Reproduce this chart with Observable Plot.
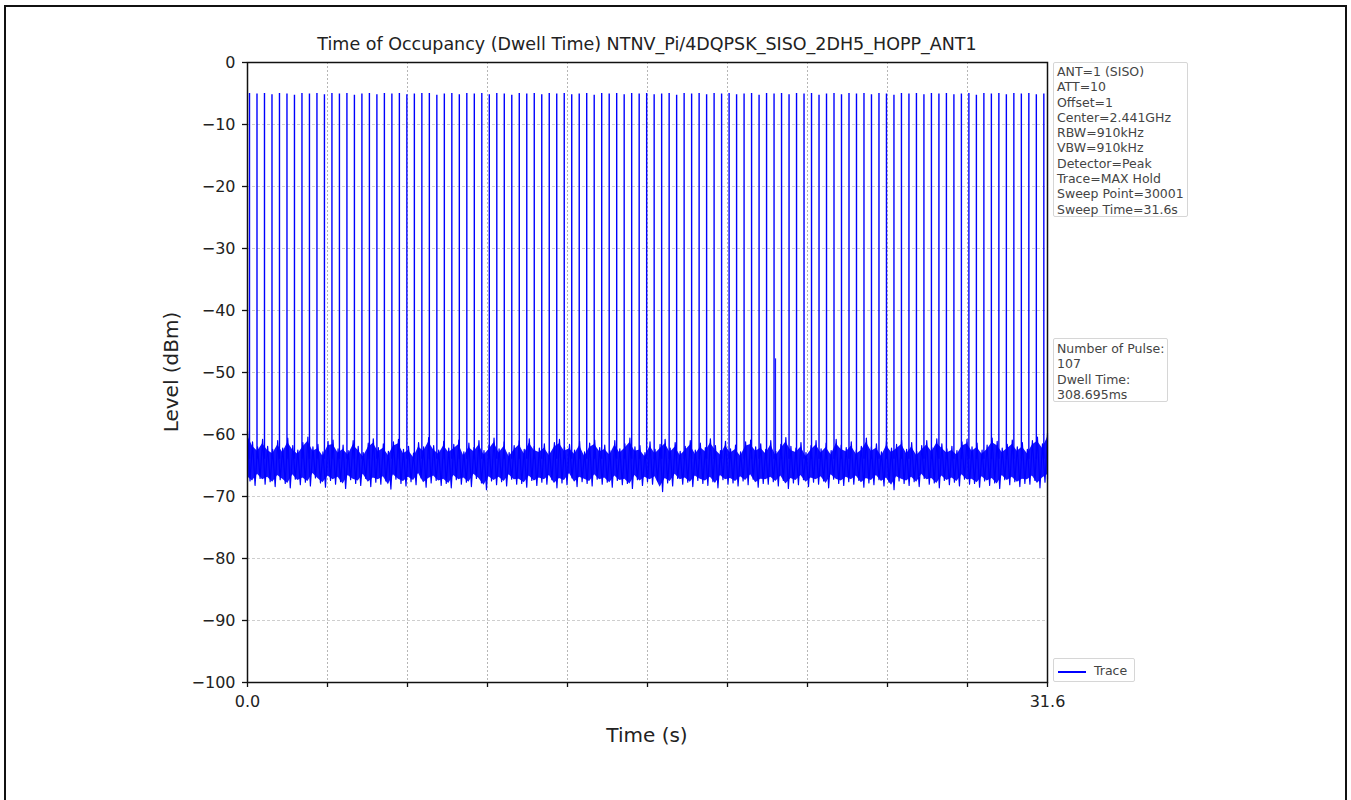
<!DOCTYPE html>
<html><head><meta charset="utf-8">
<script src="https://cdn.jsdelivr.net/npm/d3@7"></script>
<script src="https://cdn.jsdelivr.net/npm/@observablehq/plot@0.6"></script>
<style>
body{margin:0;background:#fff;font-family:"DejaVu Sans",sans-serif;}
#wrap{position:relative;width:1351px;height:800px;overflow:hidden;background:#fff;}
#chart{position:absolute;left:0;top:0;}
#border{position:absolute;left:4px;top:5px;width:1343px;height:800px;border:2px solid #111;box-sizing:border-box;pointer-events:none;}
.box{position:absolute;background:rgba(255,255,255,0.9);border:1px solid #d6d6d6;border-radius:2px;font-size:12.5px;color:#444;line-height:15.3px;box-sizing:border-box;padding:1px 0 0 3px;white-space:nowrap;}
</style>
</head><body>
<div id="wrap">
<div id="chart"></div>
<div class="box" id="info" style="left:1053px;top:62px;width:135px;height:155px;"></div>
<div class="box" id="pulse" style="left:1053px;top:338px;width:115px;height:64px;padding-top:2px;"></div>
<div class="box" id="legend" style="left:1053px;top:658px;width:82px;height:24px;line-height:22px;padding-left:4px;">
<span style="display:inline-block;width:28px;height:0;border-top:2px solid #0000ff;vertical-align:middle;margin-right:8px;"></span>Trace</div>
<div id="border"></div>
</div>
<script>
const titleText = "Time of Occupancy (Dwell Time) NTNV_Pi/4DQPSK_SISO_2DH5_HOPP_ANT1";
const xLabel = "Time (s)";
const yLabel = "Level (dBm)";
const infoLines = ["ANT=1 (SISO)","ATT=10","Offset=1","Center=2.441GHz","RBW=910kHz","VBW=910kHz","Detector=Peak","Trace=MAX Hold","Sweep Point=30001","Sweep Time=31.6s"];
const pulseLines = ["Number of Pulse:","107","Dwell Time:","308.695ms"];
const legendLabel = "Trace";

const xDomain = [0, 31.6];
const yDomain = [-100, 0];
const xTicks = [0, 3.16, 6.32, 9.48, 12.64, 15.8, 18.96, 22.12, 25.28, 28.44, 31.6];
const xTickLabels = ["0.0","","","","","","","","","","31.6"];
const yTicks = [0, -10, -20, -30, -40, -50, -60, -70, -80, -90, -100];

// pulse start times (s)
const pulseTimes = [0.079,0.375,0.671,0.967,1.263,1.559,1.855,2.151,2.447,2.743,
3.039,3.335,3.631,3.927,4.223,4.519,4.815,5.111,5.407,5.703,
5.999,6.295,6.591,6.887,7.183,7.479,7.775,8.071,8.367,8.663,
8.959,9.255,9.551,9.847,10.143,10.439,10.735,11.031,11.327,11.623,
11.919,12.215,12.511,12.807,13.103,13.399,13.695,13.991,14.287,14.583,
14.879,15.175,15.471,15.767,16.063,16.359,16.655,16.951,17.247,17.543,
17.839,18.135,18.431,18.727,19.023,19.319,19.615,19.911,20.207,20.503,
20.799,21.095,21.391,21.687,21.983,22.279,22.575,22.871,23.167,23.463,
23.759,24.055,24.351,24.647,24.943,25.239,25.535,25.831,26.127,26.423,
26.719,27.015,27.311,27.607,27.903,28.199,28.495,28.791,29.087,29.383,
29.679,29.975,30.271,30.567,30.863,31.159,31.455];
// pulse peak levels (dBm)
const pulsePeaks = [-5.0,-5.1,-5.0,-5.2,-5.0,-5.1,-5.3,-5.0,-5.1,-5.0,
-5.2,-5.0,-5.1,-5.0,-5.3,-5.1,-5.0,-5.2,-5.0,-5.1,
-5.0,-5.2,-5.1,-5.0,-5.0,-5.3,-5.1,-5.0,-5.2,-5.0,
-5.1,-5.0,-5.2,-5.0,-5.1,-5.3,-5.0,-5.1,-5.0,-5.2,
-5.0,-5.1,-5.0,-5.2,-5.1,-5.0,-5.3,-5.0,-5.1,-5.0,
-5.2,-5.0,-5.1,-5.0,-5.2,-5.1,-5.0,-5.3,-5.0,-5.1,
-5.0,-5.2,-5.0,-5.1,-5.0,-5.2,-5.1,-5.0,-5.3,-5.0,
-5.1,-5.0,-5.2,-5.0,-5.1,-5.0,-5.3,-5.1,-5.0,-5.2,
-5.0,-5.1,-5.0,-5.2,-5.0,-5.1,-5.3,-5.0,-5.1,-5.0,
-5.2,-5.0,-5.1,-5.0,-5.2,-5.1,-5.0,-5.3,-5.0,-5.1,
-5.0,-5.2,-5.0,-5.1,-5.0,-5.2,-5.1];
const pulseBase = -64;
// isolated spike
const spikeTimes = [20.86];
const spikeLevels = [-47.8];

// noise floor, upper and lower excursions (dBm), evenly spaced across the sweep
const noiseHi = [-59.5,-61.2,-62.0,-60.8,-61.9,-62.4,-61.0,-62.2,-60.6,-61.8,
-62.5,-61.3,-60.4,-62.0,-61.6,-62.8,-61.1,-60.9,-62.3,-61.7,
-62.6,-61.0,-61.9,-62.9,-61.4,-60.7,-62.1,-61.5,-62.7,-61.2,
-60.8,-62.4,-61.9,-63.0,-61.3,-62.0,-60.5,-61.8,-62.5,-61.1,
-62.2,-61.6,-60.9,-62.8,-61.4,-62.1,-61.0,-62.6,-61.7,-60.6,
-62.3,-61.2,-62.9,-61.8,-61.0,-62.4,-60.7,-61.9,-62.2,-61.5,
-62.7,-61.3,-60.8,-62.0,-61.6,-62.5,-61.1,-62.8,-61.4,-60.9,
-62.1,-61.7,-62.6,-61.0,-62.3,-61.5,-60.6,-62.0,-61.8,-62.9,
-61.2,-62.4,-61.6,-60.8,-62.2,-61.3,-62.7,-61.9,-61.0,-62.5,
-61.4,-62.1,-60.7,-61.8,-62.6,-61.1,-62.3,-61.7,-62.8,-61.2,
-60.9,-62.0,-61.5,-62.4,-61.0,-62.7,-61.6,-60.5,-61.9,-62.2,
-61.3,-62.9,-61.8,-61.0,-62.3,-61.4,-62.6,-60.8,-61.7,-62.1,
-61.2,-62.5,-61.9,-60.6,-62.0,-61.5,-62.8,-61.1,-62.2,-61.6,
-60.9,-62.4,-61.3,-62.7,-61.8,-61.0,-62.1,-60.7,-61.5,-62.3,
-61.9,-62.6,-61.2,-60.8,-62.0,-61.4,-62.5,-61.7,-60.6,-61.1,
-62.2,-61.6,-60.9,-62.0,-61.3,-62.4,-61.0,-60.4,-61.5,-59.8];
const noiseLo = [-67.5,-68.2,-67.1,-68.0,-67.6,-68.4,-67.3,-67.9,-68.6,-67.2,
-68.1,-67.7,-68.3,-67.0,-67.8,-68.5,-67.4,-68.0,-67.6,-68.7,
-67.3,-67.9,-68.2,-67.1,-68.4,-67.7,-68.0,-67.5,-68.8,-67.2,
-67.9,-68.3,-67.6,-68.1,-67.0,-68.5,-67.8,-67.4,-68.2,-67.9,
-68.6,-67.3,-68.0,-67.7,-68.4,-67.1,-67.8,-68.9,-67.5,-68.1,
-67.6,-68.3,-67.2,-68.0,-67.9,-68.5,-67.4,-68.2,-67.7,-68.0,
-67.3,-68.6,-67.8,-68.1,-67.0,-68.4,-67.6,-67.9,-68.3,-67.2,
-68.0,-67.7,-68.5,-67.4,-68.1,-67.9,-68.7,-67.3,-68.2,-67.6,
-68.0,-67.5,-69.2,-67.8,-68.3,-67.1,-68.0,-67.7,-68.4,-67.4,
-67.9,-68.2,-67.6,-68.6,-67.3,-68.0,-67.8,-68.3,-67.5,-68.1,
-67.2,-68.5,-67.9,-68.0,-67.6,-68.3,-67.4,-68.7,-67.8,-68.1,
-67.3,-68.4,-67.7,-68.0,-67.5,-68.6,-67.2,-67.9,-68.2,-67.6,
-68.0,-67.4,-68.5,-67.8,-68.1,-67.3,-68.3,-67.7,-68.9,-67.5,
-67.9,-68.2,-67.6,-68.4,-67.1,-68.0,-67.8,-68.6,-67.4,-68.1,
-67.7,-68.3,-67.2,-68.0,-67.9,-68.5,-67.5,-68.2,-67.8,-68.7,
-67.3,-68.1,-67.6,-68.4,-67.9,-68.0,-67.4,-68.6,-67.7,-67.2];

// ---- build tables ----
const n = noiseHi.length;
const step = (xDomain[1] - xDomain[0]) / (n - 1);
const band = noiseHi.map((h, i) => ({t: i * step, hi: h, lo: noiseLo[i]}));
const zig = [];
noiseHi.forEach((h, i) => {
  zig.push({t: i * step, v: h});
  zig.push({t: Math.min(xDomain[1], i * step + step / 2), v: noiseLo[i]});
});
const pulses = pulseTimes.map((t, i) => ({t, peak: pulsePeaks[i]}));
const spikes = spikeTimes.map((t, i) => ({t, peak: spikeLevels[i]}));

const BLUE = "#0000ff";
const W = 1351, H = 800;
const svg = Plot.plot({
  width: W, height: H,
  marginLeft: 247, marginRight: 304, marginTop: 62, marginBottom: 118,
  style: {fontFamily: "DejaVu Sans, sans-serif", fontSize: "16px", color: "#222", background: "transparent"},
  x: {domain: xDomain, label: null},
  y: {domain: yDomain, label: null},
  marks: [
    Plot.gridX(xTicks.slice(1, -1), {stroke: "#999", strokeOpacity: 0.9, strokeWidth: 0.8, strokeDasharray: "2,2"}),
    Plot.gridY(yTicks.slice(1, -1), {stroke: "#bbb", strokeOpacity: 0.9, strokeWidth: 0.8, strokeDasharray: "3,2"}),
    Plot.areaY(band, {x: "t", y1: d => d.lo + 0.7, y2: d => d.hi - 0.7, fill: BLUE, fillOpacity: 0.92, curve: "linear"}),
    Plot.line(zig, {x: "t", y: "v", stroke: BLUE, strokeWidth: 1.2, curve: "linear"}),
    Plot.ruleX(pulses, {x: "t", y1: pulseBase, y2: "peak", stroke: BLUE, strokeWidth: 1.4}),
    Plot.ruleX(spikes, {x: "t", y1: pulseBase, y2: "peak", stroke: BLUE, strokeWidth: 1}),
    Plot.axisX({ticks: xTicks, tickSize: 5, tickPadding: 8, tickFormat: (d, i) => xTickLabels[i], label: null, stroke: "#111", strokeWidth: 1.3}),
    Plot.axisY({ticks: yTicks, tickSize: 5, tickPadding: 7, tickFormat: d => d < 0 ? "\u2212" + Math.abs(d) : String(d), label: null, stroke: "#111", strokeWidth: 1.3}),
    Plot.frame({stroke: "#111", strokeWidth: 1.5})
  ]
});
const s = d3.select(svg);
s.append("text").attr("x", 647).attr("y", 50).attr("text-anchor", "middle")
  .attr("font-size", "17.5px").attr("fill", "#222").text(titleText);
s.append("text").attr("x", 647).attr("y", 742).attr("text-anchor", "middle")
  .attr("font-size", "20px").attr("fill", "#222").text(xLabel);
s.append("text").attr("transform", "translate(178,372) rotate(-90)").attr("text-anchor", "middle")
  .attr("font-size", "20px").attr("fill", "#222").text(yLabel);
document.getElementById("chart").appendChild(svg);
document.getElementById("info").innerHTML = infoLines.map(l => `<div>${l}</div>`).join("");
document.getElementById("pulse").innerHTML = pulseLines.map(l => `<div>${l}</div>`).join("");
</script>
</body></html>
